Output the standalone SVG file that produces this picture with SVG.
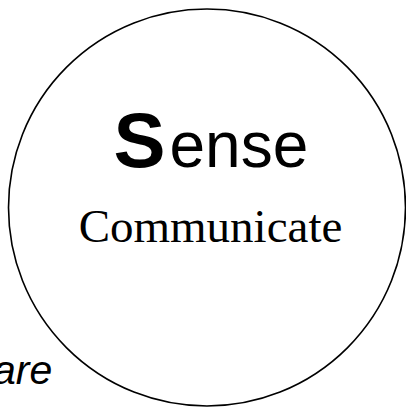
<svg xmlns="http://www.w3.org/2000/svg" width="406" height="408" viewBox="0 0 406 408">
<style>
.ring{fill:#fff;stroke:#000;stroke-width:1.6}
.sans{font-family:"Liberation Sans",Arial,sans-serif;fill:#000}
.serif{font-family:"Liberation Serif","Times New Roman",serif;fill:#000}
</style>
<rect width="406" height="408" fill="#fff"/>
<g id="label-are">
<text class="sans" x="-7" y="384" font-size="41" font-style="italic">are</text>
</g>
<g id="sense-node">
<circle class="ring" cx="207" cy="207.5" r="198.5"/>
<text class="sans" x="113.5" y="167" font-size="78" font-weight="bold">S</text>
<text class="sans" x="169.5" y="167" font-size="64">ense</text>
<text class="serif" x="210.5" y="242" font-size="47" text-anchor="middle">Communicate</text>
</g>
</svg>
